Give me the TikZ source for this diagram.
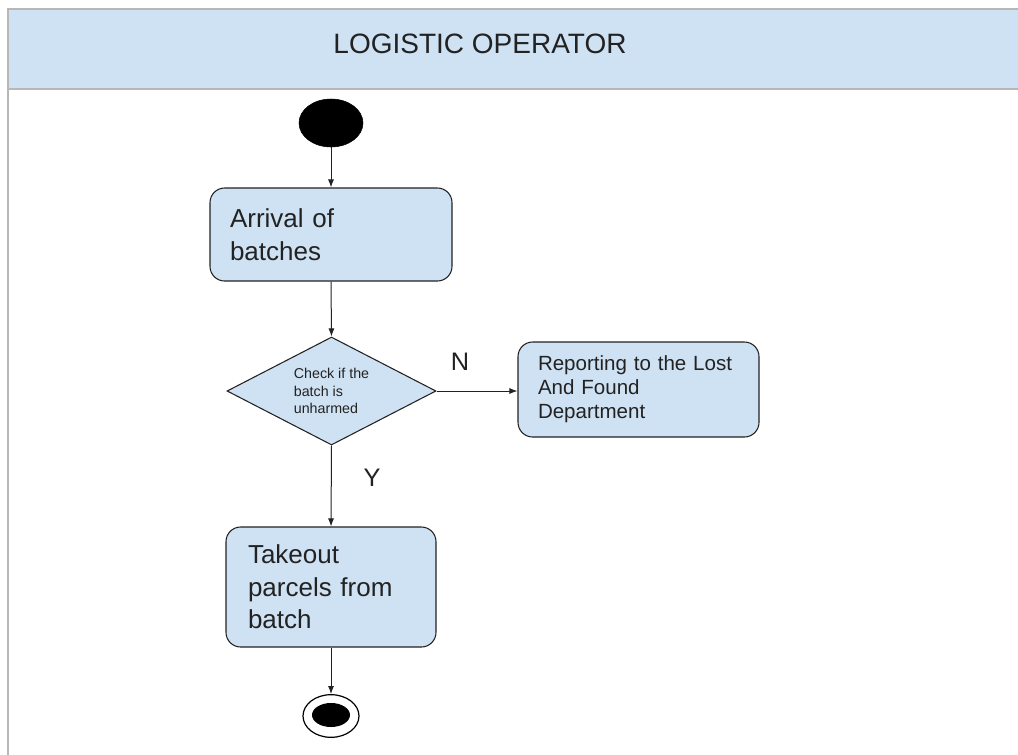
\documentclass[tikz,border=0pt]{standalone}
\usepackage{fontspec}
\setmainfont{Liberation Sans}
\usetikzlibrary{shapes.geometric,arrows.meta}
\definecolor{boxfill}{HTML}{CFE2F3}
\definecolor{hdrline}{HTML}{B7B7B7}
\definecolor{ink}{HTML}{222222}
\tikzset{
  actbox/.style={draw=ink, line width=0.8pt, fill=boxfill, rounded corners=11pt, align=left, text=ink},
  bigtext/.style={font=\fontsize{19.5pt}{24.5pt}\selectfont},
  midtext/.style={font=\fontsize{15.4pt}{18pt}\selectfont},
  decbox/.style={draw=ink, line width=0.8pt, fill=boxfill, diamond, shape aspect=1.935, inner sep=0pt, align=left, text=ink,
    font=\fontsize{10.7pt}{13pt}\selectfont},
  flow/.style={draw=ink, line width=0.75pt, -{Latex[length=6pt,width=4.5pt]}},
  lbl/.style={font=\fontsize{19pt}{22pt}\selectfont, text=ink, inner sep=0pt}
}
\begin{document}
\begin{tikzpicture}[x=0.75pt,y=-0.75pt]
\useasboundingbox (0,0) rectangle (1018,754);
\fill[white] (0,0) rectangle (1018,754);
% header
\draw[hdrline, line width=1.5pt, fill=boxfill] (1019,9) -- (8,9) -- (8,89) -- (1019,89);
\draw[hdrline, line width=1.5pt] (8,89) -- (8,755);
\node[font=\fontsize{21pt}{24pt}\selectfont, text=ink] (title) at (480,44) {LOGISTIC OPERATOR};
% start
\node[ellipse, fill=black, draw=black, minimum width=48pt, minimum height=36pt, inner sep=0pt] (start) at (331,123) {};
% boxes
\node[actbox, bigtext, minimum width=181.5pt, minimum height=69.75pt, text width=151.5pt, inner xsep=15pt] (b1) at (331,234.5) {Arrival of\\batches};
\node[decbox, minimum width=156.75pt, minimum height=81pt] (dec) at (331.5,391) {Check if the\\batch is\\unharmed};
\node[actbox, midtext, minimum width=180.75pt, minimum height=71.25pt, text width=150.75pt, inner xsep=15pt] (bn) at (638.5,389.5) {Reporting to the Lost\\And Found\\Department};
\node[actbox, bigtext, minimum width=157.5pt, minimum height=90pt, text width=124.5pt, inner xsep=16.5pt] (b3) at (331,587) {Takeout\\parcels from\\batch};
% end
\node[ellipse, draw=black, line width=0.9pt, fill=white, minimum width=42pt, minimum height=32pt, inner sep=0pt] (endo) at (331,716) {};
\node[ellipse, fill=black, minimum width=28.5pt, minimum height=18pt, inner sep=0pt] (endi) at (331,715) {};
% connectors
\draw[flow] (start.south) -- (b1.north);
\draw[flow] (b1.south) -- (dec.north);
\draw[flow] (dec.east) -- (dec.east -| bn.west);
\draw[flow] (dec.south) -- (b3.north);
\draw[flow] (b3.south) -- (endo.north);
% labels
\node[lbl] (nlab) at (460,362) {N};
\node[lbl] (ylab) at (372,478) {Y};
\end{tikzpicture}
\end{document}
